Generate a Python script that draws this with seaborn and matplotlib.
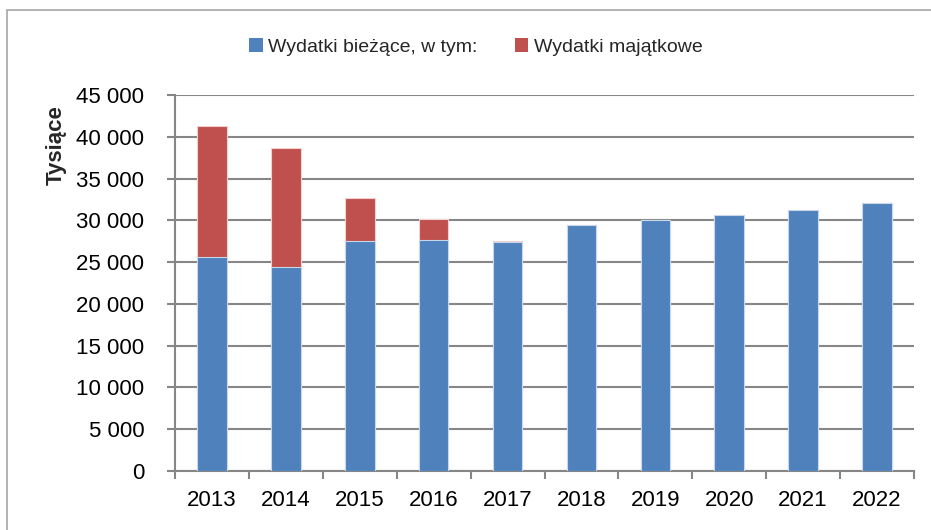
import matplotlib
matplotlib.use("Agg")
import matplotlib.pyplot as plt
import seaborn as sns
import numpy as np
import pandas as pd
from matplotlib.patches import Rectangle, Patch
from matplotlib.ticker import FuncFormatter, FixedLocator

years = ["2013", "2014", "2015", "2016", "2017", "2018", "2019", "2020", "2021", "2022"]
biezace = [25600, 24450, 27490, 27650, 27450, 29420, 30040, 30690, 31240, 32040]
majatkowe = [15700, 14190, 5240, 2520, 120, 30, 0, 0, 0, 0]
series_names = ["Wydatki bieżące, w tym:", "Wydatki majątkowe"]
y_label = "Tysiące"
y_ticks = [0, 5000, 10000, 15000, 20000, 25000, 30000, 35000, 40000, 45000]

blue = "#4F81BD"
red = "#C0504D"
grid_c = "#868686"

sns.set_theme(style="white")
plt.rcParams["font.family"] = ["Liberation Sans", "DejaVu Sans"]

W, H = 931, 530
fig = plt.figure(figsize=(W / 100, H / 100), dpi=100)
ax = fig.add_axes([175 / W, 1 - 471 / H, (914 - 175) / W, (471 - 95) / H])

df = pd.DataFrame({"year": years, "biezace": biezace, "majatkowe": majatkowe})
df["total"] = df["biezace"] + df["majatkowe"]

sns.barplot(data=df, x="year", y="total", color=red, saturation=1, width=0.4,
            edgecolor="#f2d0cf", linewidth=0.8, ax=ax, zorder=3)
sns.barplot(data=df, x="year", y="biezace", color=blue, saturation=1, width=0.4,
            edgecolor="#c9d7ea", linewidth=0.8, ax=ax, zorder=4)

ax.set_xlim(-0.5, len(years) - 0.5)
ax.set_ylim(0, 45000)
ax.yaxis.set_major_locator(FixedLocator(y_ticks))
ax.yaxis.set_major_formatter(FuncFormatter(lambda v, p: f"{int(v):,}".replace(",", " ")))
ax.grid(axis="y", color=grid_c, linewidth=1.5, zorder=0)
ax.set_axisbelow(True)

for s in ["top", "right"]:
    ax.spines[s].set_visible(False)
for s in ["left", "bottom"]:
    ax.spines[s].set_color(grid_c)
    ax.spines[s].set_linewidth(1.5)

ax.tick_params(axis="y", which="major", length=6, width=1.5, color=grid_c, left=True,
               labelsize=16, pad=16, labelcolor="black")
ax.tick_params(axis="x", which="major", length=0, labelsize=16, pad=14, labelcolor="black")
ax.set_xticks(np.arange(-0.5, len(years), 1.0), minor=True)
ax.tick_params(axis="x", which="minor", length=6, width=1.5, color=grid_c, bottom=True)

ax.set_xlabel("")
ax.set_ylabel("")
fig.text(56 / W, 1 - 145 / H, y_label, rotation=90, fontsize=16, fontweight="bold",
         ha="center", va="center")

handles = [Patch(facecolor=blue, edgecolor="none"), Patch(facecolor=red, edgecolor="none")]
fig.legend(handles, series_names, loc="center", bbox_to_anchor=(476 / W, 1 - 47 / H),
           ncol=2, frameon=False, fontsize=14, handlelength=0.68, handleheight=0.68,
           handletextpad=0.3, columnspacing=1.9)

fig.patches.append(Rectangle((7 / W, -0.1), 1.2, 1 - 10 / H + 0.1, transform=fig.transFigure,
                             fill=False, edgecolor="#a6a6a6", linewidth=1.2))

fig.savefig("out.png", dpi=100)
